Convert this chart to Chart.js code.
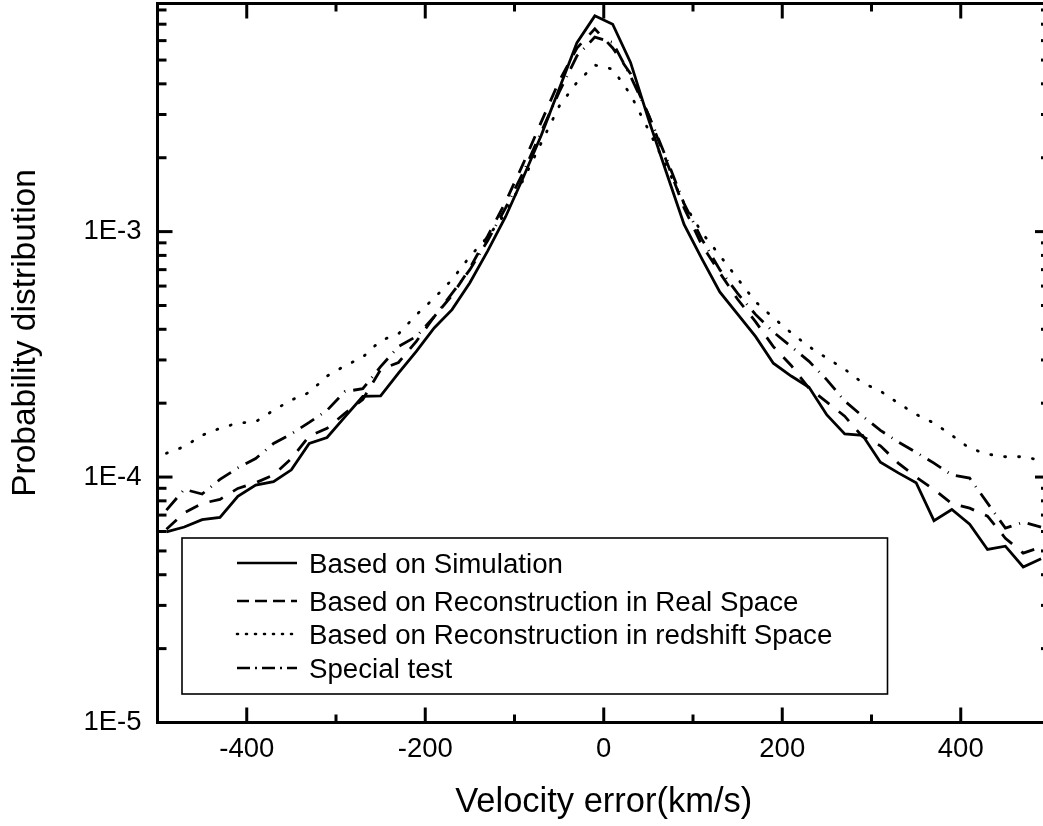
<!DOCTYPE html>
<html><head><meta charset="utf-8">
<script src="https://cdn.jsdelivr.net/npm/chart.js@4/dist/chart.umd.min.js"></script>
<style>html,body{margin:0;padding:0;background:#fff;overflow:hidden;}canvas{display:block;}</style>
</head><body>
<canvas id="c" width="1060" height="826"></canvas>
<script>
const velocity = [-490,-470,-450,-430,-410,-390,-370,-350,-330,-310,-290,-270,-250,-230,-210,-190,-170,-150,-130,-110,-90,-70,-50,-30,-10,
  10,30,50,70,90,110,130,150,170,190,210,230,250,270,290,310,330,350,370,390,410,430,450,470,490];
const simulation = [5.98e-5,6.26e-5,6.71e-5,6.85e-5,8.35e-5,9.28e-5,9.57e-5,1.07e-4,1.37e-4,1.45e-4,1.76e-4,2.13e-4,2.14e-4,2.65e-4,3.25e-4,
  4.05e-4,4.81e-4,6.19e-4,8.35e-4,1.15e-3,1.67e-3,2.47e-3,3.81e-3,5.89e-3,7.57e-3,
  7.0e-3,4.89e-3,2.88e-3,1.75e-3,1.07e-3,7.74e-4,5.68e-4,4.61e-4,3.74e-4,2.91e-4,2.58e-4,2.32e-4,1.79e-4,1.50e-4,1.48e-4,
  1.15e-4,1.04e-4,9.48e-5,6.64e-5,7.38e-5,6.43e-5,5.07e-5,5.23e-5,4.30e-5,4.65e-5];
const realSpace = [6.13e-5,7.15e-5,7.81e-5,8.11e-5,8.99e-5,9.48e-5,1.02e-4,1.19e-4,1.47e-4,1.58e-4,1.82e-4,2.07e-4,2.74e-4,2.93e-4,3.57e-4,
  4.5e-4,5.5e-4,7.1e-4,9.6e-4,1.32e-3,1.9e-3,2.8e-3,4.1e-3,5.6e-3,6.7e-3,
  5.6e-3,4.4e-3,3.0e-3,1.95e-3,1.25e-3,8.8e-4,6.8e-4,5.3e-4,4.3e-4,3.4e-4,2.85e-4,2.3e-4,2.02e-4,1.77e-4,1.46e-4,
  1.34e-4,1.14e-4,1.0e-4,8.9e-5,7.8e-5,7.47e-5,6.93e-5,5.63e-5,4.9e-5,5.18e-5];
const redshiftSpace = [1.25e-4,1.33e-4,1.48e-4,1.58e-4,1.66e-4,1.68e-4,1.87e-4,2.06e-4,2.21e-4,2.58e-4,2.84e-4,3.08e-4,3.60e-4,3.83e-4,4.58e-4,
  5.36e-4,6.37e-4,7.92e-4,9.52e-4,1.19e-3,1.63e-3,2.30e-3,3.24e-3,4.06e-3,4.77e-3,
  4.59e-3,3.62e-3,2.6e-3,1.85e-3,1.3e-3,9.9e-4,8.0e-4,6.43e-4,5.18e-4,4.46e-4,3.87e-4,3.40e-4,3.05e-4,2.75e-4,2.42e-4,
  2.24e-4,2.0e-4,1.80e-4,1.66e-4,1.48e-4,1.31e-4,1.24e-4,1.21e-4,1.21e-4,1.17e-4];
const specialTest = [7.33e-5,8.91e-5,8.53e-5,9.78e-5,1.09e-4,1.19e-4,1.37e-4,1.50e-4,1.67e-4,1.87e-4,2.23e-4,2.29e-4,2.82e-4,3.40e-4,3.74e-4,
  4.5e-4,5.6e-4,7.0e-4,9.2e-4,1.25e-3,1.75e-3,2.55e-3,3.7e-3,5.2e-3,6.2e-3,
  5.9e-3,4.3e-3,3.0e-3,2.0e-3,1.3e-3,9.3e-4,7.0e-4,5.6e-4,4.6e-4,3.9e-4,3.4e-4,2.96e-4,2.49e-4,2.04e-4,1.77e-4,
  1.55e-4,1.39e-4,1.26e-4,1.14e-4,1.02e-4,9.9e-5,7.83e-5,6.19e-5,6.55e-5,6.25e-5];
const seriesLabels = ['Based on Simulation','Based on Reconstruction in Real Space','Based on Reconstruction in redshift Space','Special test'];
const xMajorTicks = [-400,-200,0,200,400];
const xMinorTicks = [-500,-300,-100,100,300,500];
const yMajorTicks = [1e-5,1e-4,1e-3];
const xTitle = 'Velocity error(km/s)';
const yTitle = 'Probability distribution';

const FONT = '"Liberation Sans", Arial, Helvetica, sans-serif';
const styles = [
  {dash: [], cap: 'butt', legendDash: []},
  {dash: [14, 12], cap: 'butt', legendDash: [12, 6]},
  {dash: [1, 13], cap: 'round', legendDash: [1, 8]},
  {dash: [16, 8, 1, 8], cap: 'butt', legendDash: [13, 5, 2, 5]}
];
const seriesData = [simulation, realSpace, redshiftSpace, specialTest];

const datasets = seriesData.map((vals, i) => ({
  label: seriesLabels[i],
  data: velocity.map((v, k) => ({x: v, y: vals[k]})),
  borderColor: '#000',
  backgroundColor: '#000',
  borderWidth: 2.8,
  borderDash: styles[i].dash,
  borderCapStyle: styles[i].cap,
  pointRadius: 0,
  tension: 0,
  fill: false
}));

const framePlugin = {
  id: 'frame',
  afterDatasetsDraw(chart) {
    const {ctx, chartArea: a, scales: {x, y}} = chart;
    ctx.save();
    ctx.strokeStyle = '#000';
    ctx.lineWidth = 3;
    ctx.lineCap = 'butt';
    ctx.strokeRect(a.left, a.top, a.right - a.left, a.bottom - a.top);
    const tick = (x1, y1, x2, y2) => { ctx.beginPath(); ctx.moveTo(x1, y1); ctx.lineTo(x2, y2); ctx.stroke(); };
    xMajorTicks.forEach(v => { const p = x.getPixelForValue(v); tick(p, a.bottom, p, a.bottom - 15); tick(p, a.top, p, a.top + 15); });
    xMinorTicks.forEach(v => { const p = x.getPixelForValue(v); tick(p, a.bottom, p, a.bottom - 8); tick(p, a.top, p, a.top + 8); });
    yMajorTicks.forEach(v => { const p = y.getPixelForValue(v); tick(a.left, p, a.left + 15, p); tick(a.right, p, a.right - 15, p); });
    yMajorTicks.forEach(d => {
      for (let m = 2; m <= 9; m++) {
        const v = d * m;
        if (v > y.max) continue;
        const p = y.getPixelForValue(v);
        tick(a.left, p, a.left + 9, p); tick(a.right, p, a.right - 9, p);
      }
    });
    ctx.restore();
  }
};

const yTitlePos = {x: 35, y: 333};
const legendBox = {left: 182, top: 538, right: 887.5, bottom: 694};
const legendRows = [573, 611, 644, 678];
const legendPlugin = {
  id: 'boxLegend',
  afterDraw(chart) {
    const ctx = chart.ctx;
    ctx.save();
    ctx.fillStyle = '#fff';
    ctx.fillRect(legendBox.left, legendBox.top, legendBox.right - legendBox.left, legendBox.bottom - legendBox.top);
    ctx.strokeStyle = '#000';
    ctx.lineWidth = 1.6;
    ctx.strokeRect(legendBox.left, legendBox.top, legendBox.right - legendBox.left, legendBox.bottom - legendBox.top);
    chart.data.datasets.forEach((ds, i) => {
      const base = legendRows[i];
      const mid = base - 10;
      ctx.lineWidth = 2.6;
      ctx.lineCap = styles[i].cap;
      ctx.setLineDash(styles[i].legendDash);
      ctx.beginPath(); ctx.moveTo(237, mid); ctx.lineTo(297, mid); ctx.stroke();
      ctx.setLineDash([]);
      ctx.fillStyle = '#000';
      ctx.font = '27.7px ' + FONT;
      ctx.textBaseline = 'alphabetic';
      ctx.textAlign = 'left';
      ctx.fillText(ds.label, 309, base);
    });
    ctx.translate(yTitlePos.x, yTitlePos.y);
    ctx.rotate(-Math.PI / 2);
    ctx.font = '33.5px ' + FONT;
    ctx.textAlign = 'center';
    ctx.textBaseline = 'alphabetic';
    ctx.fillText(yTitle, 0, 0);
    ctx.restore();
  }
};

new Chart(document.getElementById('c'), {
  type: 'line',
  data: {datasets},
  options: {
    responsive: false,
    animation: false,
    devicePixelRatio: 1,
    layout: {padding: {top: 3.5, right: 10, left: 0, bottom: 0}},
    plugins: {legend: {display: false}, tooltip: {enabled: false}},
    scales: {
      x: {
        type: 'linear', min: -500, max: 500,
        grid: {display: false, drawTicks: false}, border: {display: false},
        afterBuildTicks: s => { s.ticks = xMajorTicks.map(v => ({value: v})); },
        afterFit: s => { s.height = 103.5; s.paddingLeft = 0; s.paddingRight = 0; s.paddingTop = 0; s.paddingBottom = 0; },
        ticks: {color: '#000', font: {family: FONT, size: 27.5}, padding: 10, maxRotation: 0, callback: v => String(v)},
        title: {display: true, text: xTitle, color: '#000', font: {family: FONT, size: 34.5}, padding: {top: 0, bottom: 3}}
      },
      y: {
        type: 'logarithmic', min: 1e-5, max: 8.5e-3,
        grid: {display: false, drawTicks: false}, border: {display: false},
        afterBuildTicks: s => { s.ticks = yMajorTicks.map(v => ({value: v})); },
        afterFit: s => { s.width = 157.5; s.paddingLeft = 0; s.paddingRight = 0; s.paddingTop = 0; s.paddingBottom = 0; },
        ticks: {color: '#000', font: {family: FONT, size: 27.5}, padding: 16,
          callback: v => '1E' + Math.round(Math.log10(v))},
        title: {display: false}
      }
    }
  },
  plugins: [framePlugin, legendPlugin]
});
</script>
</body></html>
